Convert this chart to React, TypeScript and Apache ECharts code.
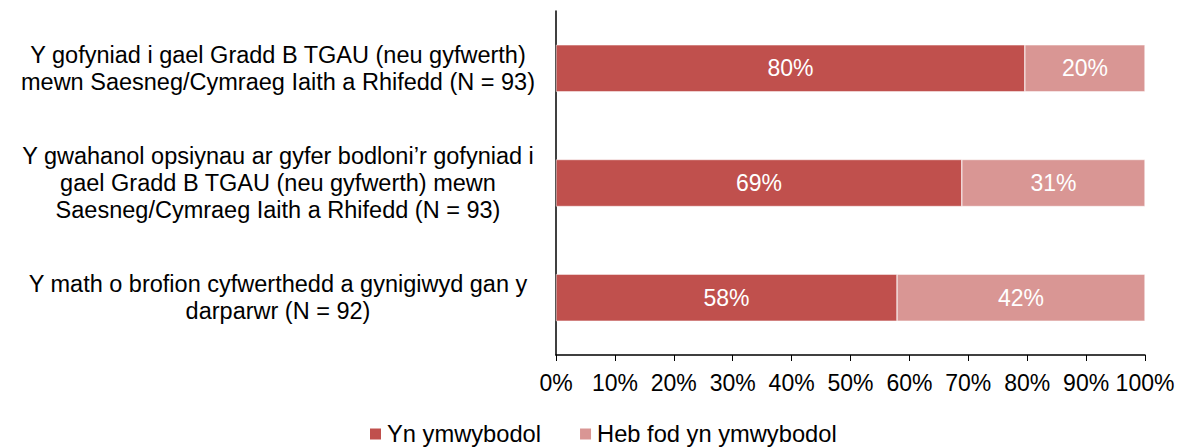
import React, { useEffect, useRef } from "react";
import * as echarts from "echarts";

const categories = [
  "Y gofyniad i gael Gradd B TGAU (neu gyfwerth)\nmewn Saesneg/Cymraeg Iaith a Rhifedd (N = 93)",
  "Y gwahanol opsiynau ar gyfer bodloni’r gofyniad i\ngael Gradd B TGAU (neu gyfwerth) mewn\nSaesneg/Cymraeg Iaith a Rhifedd (N = 93)",
  "Y math o brofion cyfwerthedd a gynigiwyd gan y\ndarparwr (N = 92)",
];
const awareValues = [79.6, 68.9, 57.9];
const notAwareValues = [20.4, 31.1, 42.1];
const seriesNames = ["Yn ymwybodol", "Heb fod yn ymwybodol"];
const colors = ["#C0504D", "#D99694"];

const FONT = "Liberation Sans, Arial, sans-serif";
const FS = 23;

export default function App() {
  const ref = useRef<HTMLDivElement>(null);
  useEffect(() => {
    if (!ref.current) return;
    const chart = echarts.init(ref.current, undefined, { renderer: "svg" });
    const labelCfg = {
      show: true,
      position: "inside",
      color: "#fff",
      fontSize: FS,
      fontFamily: FONT,
      formatter: (p: any) => Math.round(p.value) + "%",
    };
    chart.setOption({
      animation: false,
      textStyle: { fontFamily: FONT },
      grid: { left: 556, right: 41, top: 11, height: 344 },
      legend: {
        top: 417,
        left: 363,
        itemWidth: 13,
        itemHeight: 13,
        itemGap: 37,
        icon: "rect",
        textStyle: { fontSize: 23.7, color: "#000", fontFamily: FONT },
        data: seriesNames,
      },
      xAxis: {
        type: "value",
        min: 0,
        max: 100,
        interval: 10,
        axisLine: { show: true, lineStyle: { color: "#000", width: 1.5 } },
        axisTick: { show: true, length: 6, lineStyle: { color: "#000" } },
        splitLine: { show: false },
        axisLabel: {
          formatter: "{value}%",
          fontSize: FS,
          color: "#000",
          fontFamily: FONT,
          margin: 16,
        },
      },
      yAxis: {
        type: "category",
        inverse: true,
        data: categories,
        axisLine: { show: true, lineStyle: { color: "#000", width: 1.5 } },
        axisTick: { show: false },
        axisLabel: {
          align: "center",
          margin: 278,
          fontSize: 23.5,
          lineHeight: 27,
          color: "#000",
          fontFamily: FONT,
        },
      },
      series: [
        {
          name: seriesNames[0],
          type: "bar",
          stack: "total",
          barWidth: 47,
          data: awareValues,
          itemStyle: { color: colors[0], borderColor: "#fff", borderWidth: 0.5 },
          label: labelCfg,
        },
        {
          name: seriesNames[1],
          type: "bar",
          stack: "total",
          barWidth: 47,
          data: notAwareValues,
          itemStyle: { color: colors[1], borderColor: "#fff", borderWidth: 0.5 },
          label: labelCfg,
        },
      ],
    });
    return () => chart.dispose();
  }, []);
  return (
    <div
      ref={ref}
      style={{ width: 1186, height: 448, position: "absolute", left: 0, top: 0 }}
    />
  );
}
